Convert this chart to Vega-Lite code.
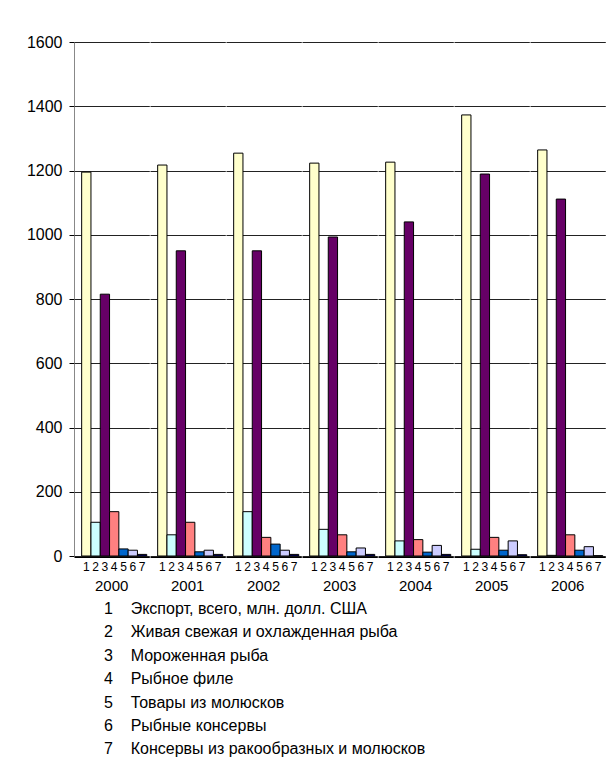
{
  "$schema": "https://vega.github.io/schema/vega-lite/v6.json",
  "padding": {"left": 26, "top": 34, "right": 8, "bottom": 0},
  "background": "white",
  "data": {"values": [
    {"year": "2000", "s": 1, "v": 1195}, {"year": "2000", "s": 2, "v": 105}, {"year": "2000", "s": 3, "v": 815}, {"year": "2000", "s": 4, "v": 138}, {"year": "2000", "s": 5, "v": 22}, {"year": "2000", "s": 6, "v": 18}, {"year": "2000", "s": 7, "v": 5},
    {"year": "2001", "s": 1, "v": 1217}, {"year": "2001", "s": 2, "v": 66}, {"year": "2001", "s": 3, "v": 950}, {"year": "2001", "s": 4, "v": 105}, {"year": "2001", "s": 5, "v": 13}, {"year": "2001", "s": 6, "v": 18}, {"year": "2001", "s": 7, "v": 5},
    {"year": "2002", "s": 1, "v": 1254}, {"year": "2002", "s": 2, "v": 138}, {"year": "2002", "s": 3, "v": 950}, {"year": "2002", "s": 4, "v": 58}, {"year": "2002", "s": 5, "v": 37}, {"year": "2002", "s": 6, "v": 18}, {"year": "2002", "s": 7, "v": 5},
    {"year": "2003", "s": 1, "v": 1223}, {"year": "2003", "s": 2, "v": 83}, {"year": "2003", "s": 3, "v": 993}, {"year": "2003", "s": 4, "v": 66}, {"year": "2003", "s": 5, "v": 13}, {"year": "2003", "s": 6, "v": 25}, {"year": "2003", "s": 7, "v": 5},
    {"year": "2004", "s": 1, "v": 1226}, {"year": "2004", "s": 2, "v": 47}, {"year": "2004", "s": 3, "v": 1040}, {"year": "2004", "s": 4, "v": 51}, {"year": "2004", "s": 5, "v": 12}, {"year": "2004", "s": 6, "v": 33}, {"year": "2004", "s": 7, "v": 5},
    {"year": "2005", "s": 1, "v": 1373}, {"year": "2005", "s": 2, "v": 21}, {"year": "2005", "s": 3, "v": 1189}, {"year": "2005", "s": 4, "v": 58}, {"year": "2005", "s": 5, "v": 18}, {"year": "2005", "s": 6, "v": 47}, {"year": "2005", "s": 7, "v": 4},
    {"year": "2006", "s": 1, "v": 1264}, {"year": "2006", "s": 2, "v": 2}, {"year": "2006", "s": 3, "v": 1111}, {"year": "2006", "s": 4, "v": 66}, {"year": "2006", "s": 5, "v": 18}, {"year": "2006", "s": 6, "v": 29}, {"year": "2006", "s": 7, "v": 1}
  ]},
  "facet": {
    "column": {
      "field": "year", "type": "ordinal",
      "header": {"title": null, "labelOrient": "bottom", "labelFontSize": 15, "labelFont": "Liberation Sans", "labelColor": "black", "labelPadding": 7}
    }
  },
  "spacing": 0,
  "spec": {
    "width": 75.3,
    "height": 514,
    "mark": {"type": "bar", "stroke": "black", "strokeWidth": 1},
    "encoding": {
      "x": {
        "field": "s", "type": "ordinal",
        "scale": {"paddingInner": 0, "paddingOuter": 0.55, "align": 0.75},
        "axis": {"title": null, "labelAngle": 0, "ticks": false, "domainColor": "black", "labelFontSize": 12, "labelPadding": 4, "labelColor": "black"}
      },
      "y": {
        "field": "v", "type": "quantitative",
        "scale": {"domain": [0, 1600]},
        "axis": {"title": null, "values": [0, 200, 400, 600, 800, 1000, 1200, 1400, 1600], "format": "d", "gridColor": "#222", "gridOpacity": 1, "domainColor": "#888", "tickColor": "black", "tickSize": 5, "labelPadding": 7, "labelFontSize": 16, "labelColor": "black"}
      },
      "color": {
        "field": "s", "type": "ordinal",
        "scale": {"domain": [1, 2, 3, 4, 5, 6, 7], "range": ["#FFFFCC", "#CCFFFF", "#660066", "#FF8080", "#0066CC", "#CCCCFF", "#000080"]},
        "legend": {
          "title": null, "orient": "none", "legendX": 10, "legendY": 559,
          "symbolOpacity": 0, "symbolSize": 0, "symbolStrokeWidth": 0,
          "labelFontSize": 16, "labelColor": "black", "rowPadding": 7.4, "labelLimit": 0,
          "labelExpr": "datum.label + '\u00a0\u00a0\u00a0\u00a0' + ['Экспорт, всего, млн. долл. США', 'Живая свежая и охлажденная рыба', 'Мороженная рыба', 'Рыбное филе', 'Товары из молюсков', 'Рыбные консервы', 'Консервы из ракообразных и молюсков'][datum.value - 1]"
        }
      }
    }
  },
  "config": {"view": {"stroke": null}, "font": "Liberation Sans"}
}
